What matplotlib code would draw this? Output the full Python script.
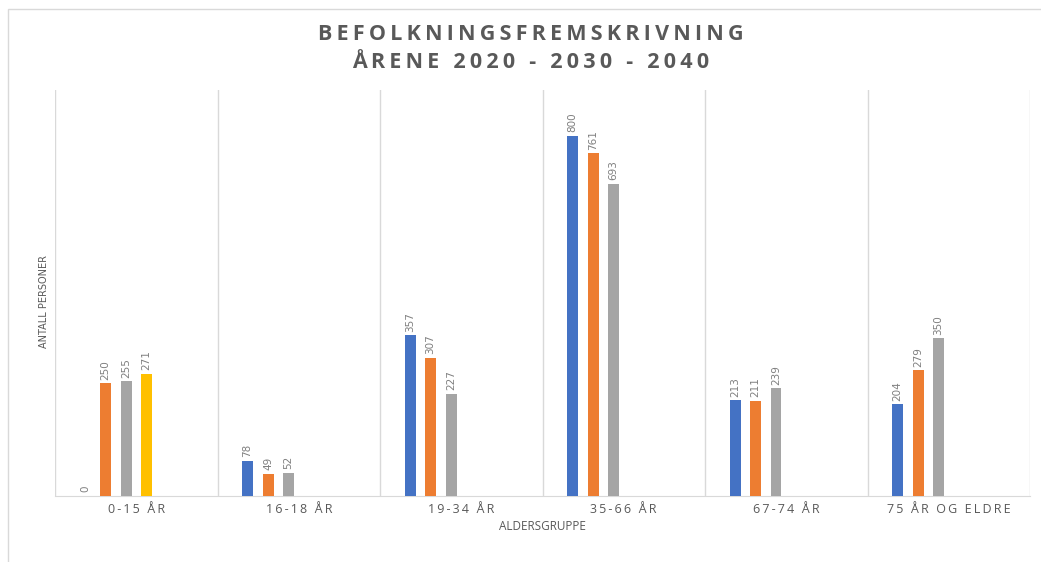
import numpy as np
import matplotlib.pyplot as plt
from matplotlib.patches import Rectangle

plt.rcParams['font.family'] = ['Open Sans', 'DejaVu Sans']

categories = ['0-15 ÅR', '16-18 ÅR', '19-34 ÅR', '35-66 ÅR', '67-74 ÅR', '75 ÅR OG ELDRE']
serie1 = [0, 78, 357, 800, 213, 204]
serie2 = [250, 49, 307, 761, 211, 279]
serie3 = [255, 52, 227, 693, 239, 350]
serie4 = [271, None, None, None, None, None]
serie5 = [None] * 6
serie6 = [None] * 6

series = [serie1, serie2, serie3, serie4, serie5, serie6]
colors = ['#4472C4', '#ED7D31', '#A5A5A5', '#FFC000', '#5B9BD5', '#70AD47']


def spaced(s, sep='\u2009'):
    return sep.join(list(s))


W, H = 1041, 562
fig = plt.figure(figsize=(W / 100, H / 100), dpi=100)

# chart frame
fig.patches.append(Rectangle((8 / W, -0.05), 1.1, 1 - 9 / H + 0.05, transform=fig.transFigure,
                             fill=False, edgecolor='#D9D9D9', lw=1))

ax = fig.add_axes([55 / W, 1 - 496 / H, (1030 - 55) / W, (496 - 90) / H])

x = np.arange(len(categories))
step = 20.5 / 162.5
bw = 11 / 162.5
n = len(series)
for k, (vals, c) in enumerate(zip(series, colors)):
    off = (k - (n - 1) / 2) * step
    for i, v in enumerate(vals):
        if v is None:
            continue
        ax.bar(x[i] + off, v, width=bw, color=c, zorder=3)
        ax.text(x[i] + off, v + 8, str(v), rotation=90, ha='center', va='bottom',
                fontsize=7.5, color='#7F7F7F', family=['Liberation Sans Narrow', 'DejaVu Sans'])

for b in np.arange(len(categories) + 1) - 0.5:
    ax.axvline(b, color='#D9D9D9', lw=1, zorder=1)

ax.set_xlim(-0.5, len(categories) - 0.5)
ax.set_ylim(0, 902)
ax.set_yticks([])
ax.set_xticks(x)
ax.set_xticklabels([spaced(c) for c in categories], fontsize=9, color='#595959')
ax.tick_params(axis='x', length=0, pad=5)
for s in ['top', 'right', 'left']:
    ax.spines[s].set_visible(False)
ax.spines['bottom'].set_color('#D9D9D9')

ax.set_xlabel('ALDERSGRUPPE', fontsize=8.5, color='#595959', labelpad=3)
fig.text(44 / W, 1 - 302 / H, 'ANTALL PERSONER', rotation=90, ha='center', va='center',
         fontsize=7, color='#595959', family=['Liberation Sans Narrow', 'DejaVu Sans'])

fig.text(531 / W, 1 - 35 / H, spaced('BEFOLKNINGSFREMSKRIVNING'), ha='center', va='center',
         fontsize=15.5, fontweight='bold', color='#595959')
fig.text(531 / W, 1 - 62 / H, spaced('ÅRENE 2020 - 2030 - 2040'), ha='center', va='center',
         fontsize=15.5, fontweight='bold', color='#595959')

fig.savefig('out.png', dpi=100)
